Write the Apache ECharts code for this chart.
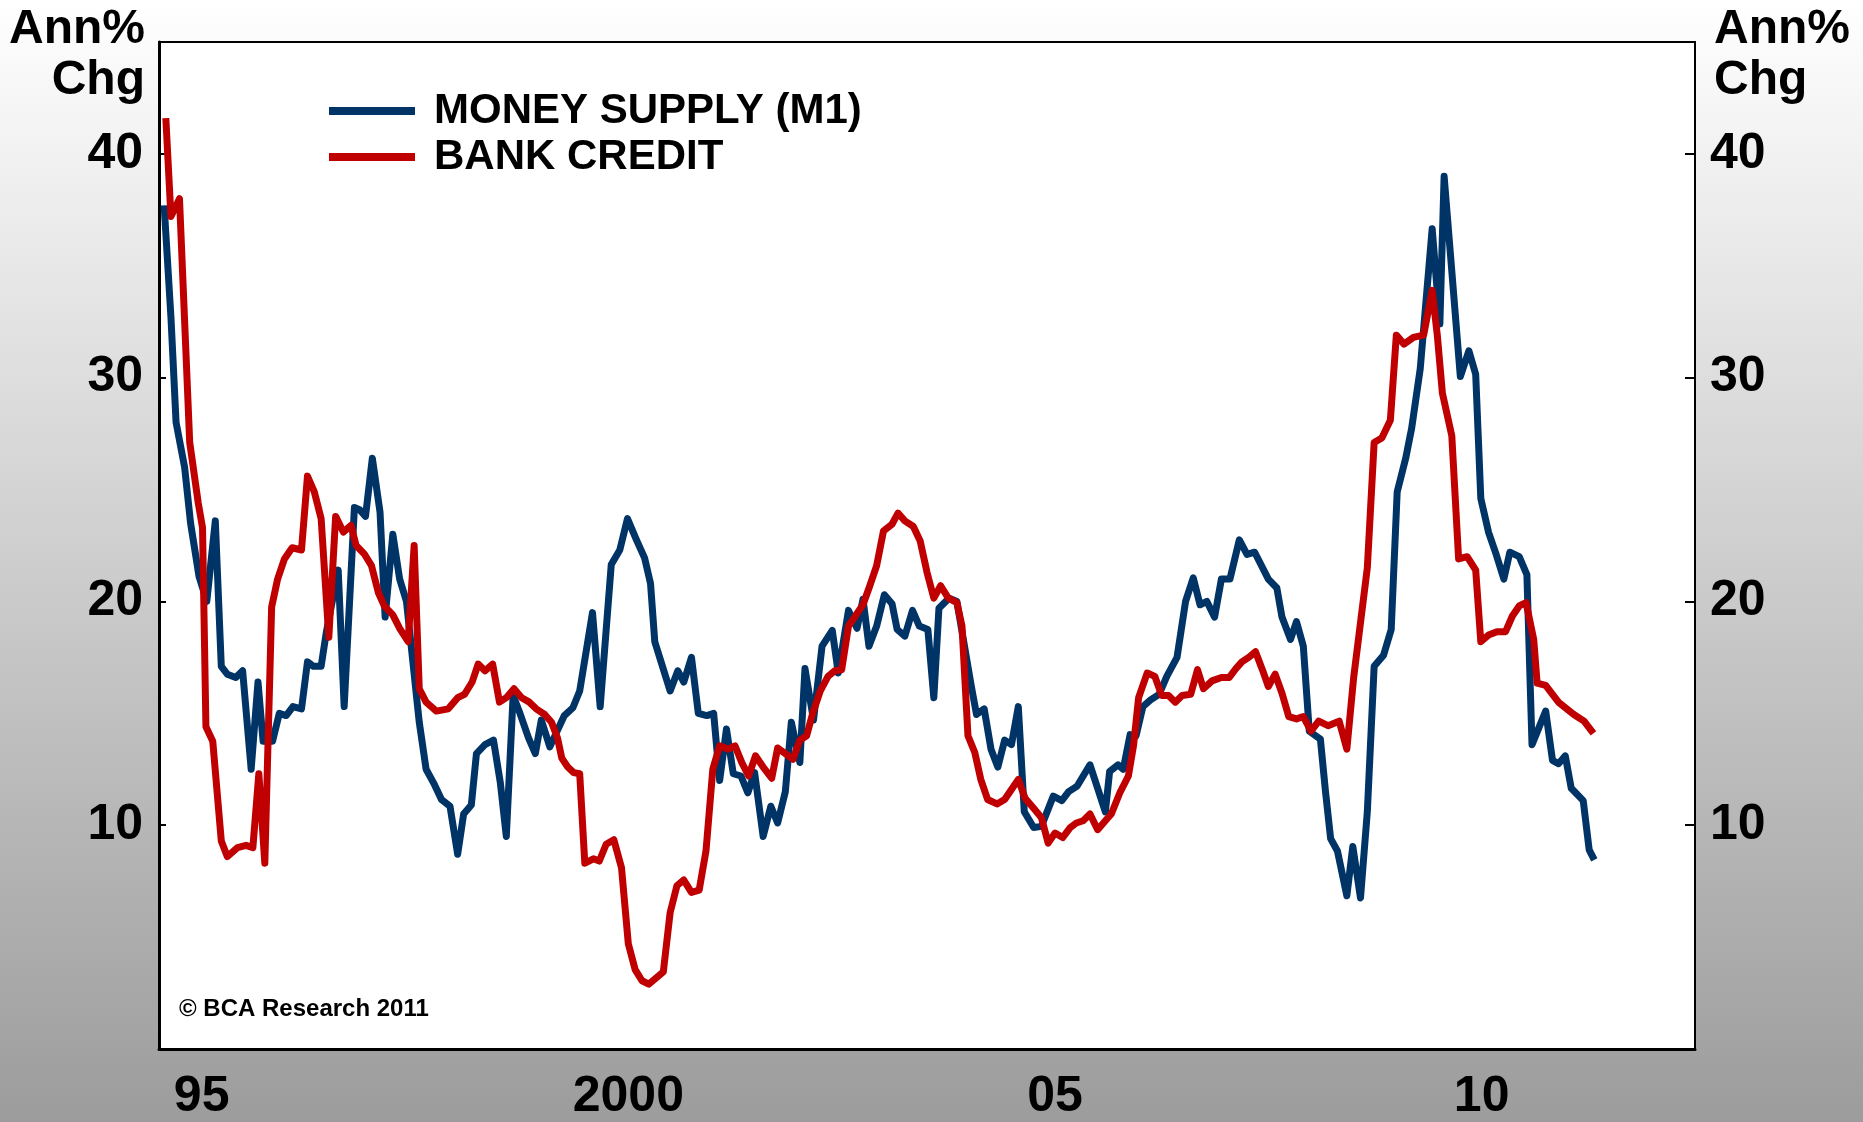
<!DOCTYPE html>
<html>
<head>
<meta charset="utf-8">
<script src="https://cdn.jsdelivr.net/npm/echarts/dist/echarts.min.js"></script>
<style>
  html, body { margin: 0; padding: 0; }
  #chart { width: 1863px; height: 1122px; }
</style>
</head>
<body>
<div id="chart"></div>
<script>
// year labels, one slot per calendar year 1995..2012
const yearLabels = ['95', '', '', '', '', '2000', '', '', '', '', '05', '', '', '', '', '10', '', '']

// [decimal year, annual % change]
const m1Points = [
  [1995.06, 37.7], [1995.14, 32.7], [1995.20, 28.0], [1995.30, 26.0], [1995.37, 23.5],
  [1995.47, 21.1], [1995.56, 20.0], [1995.66, 23.6], [1995.73, 17.1], [1995.80, 16.75],
  [1995.90, 16.6], [1995.98, 16.9], [1996.08, 12.5], [1996.16, 16.4], [1996.22, 13.75],
  [1996.33, 13.75], [1996.41, 15.0], [1996.49, 14.9], [1996.57, 15.3], [1996.67, 15.2],
  [1996.74, 17.3], [1996.81, 17.1], [1996.90, 17.1], [1996.96, 18.6], [1997.10, 21.4],
  [1997.17, 15.3], [1997.29, 24.2], [1997.35, 24.1], [1997.42, 23.8], [1997.50, 26.4],
  [1997.59, 24.0], [1997.65, 19.3], [1997.74, 23.0], [1997.82, 21.0], [1997.90, 20.0],
  [1998.05, 14.6], [1998.13, 12.5], [1998.23, 11.8], [1998.31, 11.15], [1998.41, 10.85],
  [1998.50, 8.7], [1998.57, 10.5], [1998.66, 10.9], [1998.72, 13.2], [1998.82, 13.6],
  [1998.92, 13.8], [1999.00, 11.9], [1999.07, 9.5], [1999.15, 15.8], [1999.23, 15.0],
  [1999.33, 13.9], [1999.41, 13.2], [1999.48, 14.7], [1999.58, 13.5], [1999.75, 14.9],
  [1999.85, 15.25], [1999.93, 16.0], [2000.08, 19.5], [2000.17, 15.3], [2000.30, 21.65],
  [2000.40, 22.3], [2000.49, 23.7], [2000.59, 22.8], [2000.69, 21.95], [2000.76, 20.8],
  [2000.81, 18.2], [2000.90, 17.1], [2000.99, 16.0], [2001.08, 16.9], [2001.15, 16.4],
  [2001.24, 17.5], [2001.32, 15.0], [2001.42, 14.9], [2001.50, 15.0], [2001.57, 12.0],
  [2001.65, 14.3], [2001.73, 12.3], [2001.82, 12.2], [2001.90, 11.45], [2001.98, 12.35],
  [2002.08, 9.5], [2002.17, 10.85], [2002.25, 10.1], [2002.34, 11.5], [2002.41, 14.6],
  [2002.51, 12.8], [2002.57, 17.0], [2002.67, 14.7], [2002.77, 18.0], [2002.89, 18.7],
  [2002.96, 16.8], [2003.08, 19.6], [2003.18, 18.8], [2003.25, 20.1], [2003.32, 18.0],
  [2003.41, 18.9], [2003.50, 20.3], [2003.59, 19.9], [2003.65, 18.75], [2003.74, 18.45],
  [2003.83, 19.6], [2003.91, 18.9], [2004.01, 18.75], [2004.08, 15.7], [2004.14, 19.7],
  [2004.26, 20.15], [2004.35, 20.0], [2004.52, 16.2], [2004.58, 14.95], [2004.67, 15.2],
  [2004.75, 13.4], [2004.83, 12.6], [2004.91, 13.8], [2004.99, 13.6], [2005.07, 15.3],
  [2005.14, 10.6], [2005.25, 9.9], [2005.34, 9.95], [2005.48, 11.3], [2005.58, 11.1],
  [2005.66, 11.5], [2005.76, 11.75], [2005.91, 12.7], [2006.09, 10.6], [2006.14, 12.4],
  [2006.24, 12.7], [2006.30, 12.5], [2006.38, 14.05], [2006.45, 14.0], [2006.53, 15.3],
  [2006.62, 15.6], [2006.72, 15.85], [2006.81, 16.65], [2006.93, 17.5], [2007.03, 20.0],
  [2007.12, 21.05], [2007.20, 19.85], [2007.28, 20.0], [2007.37, 19.3], [2007.45, 21.0],
  [2007.55, 21.0], [2007.66, 22.75], [2007.75, 22.1], [2007.84, 22.2], [2008.00, 21.0],
  [2008.10, 20.6], [2008.16, 19.3], [2008.26, 18.3], [2008.33, 19.1], [2008.41, 18.0],
  [2008.48, 14.2], [2008.61, 13.85], [2008.67, 11.5], [2008.73, 9.4], [2008.81, 8.85],
  [2008.92, 6.85], [2008.99, 9.05], [2009.08, 6.75], [2009.16, 10.6], [2009.24, 17.1],
  [2009.35, 17.6], [2009.44, 18.75], [2009.51, 24.9], [2009.61, 26.4], [2009.68, 27.75],
  [2009.78, 30.4], [2009.92, 36.65], [2010.01, 32.4], [2010.06, 39.0], [2010.25, 30.05],
  [2010.35, 31.2], [2010.43, 30.15], [2010.49, 24.6], [2010.58, 23.1], [2010.67, 22.1],
  [2010.76, 21.0], [2010.83, 22.2], [2010.94, 22.0], [2011.03, 21.2], [2011.09, 13.6],
  [2011.25, 15.1], [2011.33, 12.9], [2011.40, 12.75], [2011.48, 13.1], [2011.55, 11.65],
  [2011.69, 11.1], [2011.76, 8.9], [2011.82, 8.45]
]

const creditPoints = [
  [1995.08, 41.6], [1995.14, 37.2], [1995.24, 38.0], [1995.36, 27.1], [1995.46, 24.4],
  [1995.51, 23.3], [1995.55, 14.4], [1995.63, 13.75], [1995.73, 9.3], [1995.80, 8.6],
  [1995.92, 9.0], [1996.02, 9.1], [1996.10, 9.0], [1996.17, 12.3], [1996.24, 8.3],
  [1996.32, 19.75], [1996.39, 21.0], [1996.47, 21.9], [1996.56, 22.4], [1996.67, 22.3],
  [1996.74, 25.6], [1996.82, 24.9], [1996.90, 23.7], [1996.99, 18.4], [1997.07, 23.8],
  [1997.16, 23.1], [1997.25, 23.4], [1997.31, 22.5], [1997.41, 22.1], [1997.49, 21.6],
  [1997.57, 20.4], [1997.64, 19.8], [1997.74, 19.4], [1997.82, 18.8], [1997.92, 18.2],
  [1997.99, 22.5], [1998.05, 16.1], [1998.13, 15.5], [1998.25, 15.1], [1998.39, 15.2],
  [1998.50, 15.7], [1998.58, 15.85], [1998.67, 16.4], [1998.74, 17.2], [1998.82, 16.9],
  [1998.91, 17.2], [1998.99, 15.5], [1999.07, 15.7], [1999.16, 16.1], [1999.25, 15.7],
  [1999.34, 15.5], [1999.42, 15.2], [1999.52, 14.95], [1999.60, 14.6], [1999.67, 13.9],
  [1999.72, 13.0], [1999.79, 12.6], [1999.86, 12.35], [1999.93, 12.3], [1999.99, 8.3],
  [2000.09, 8.5], [2000.16, 8.4], [2000.24, 9.15], [2000.33, 9.35], [2000.42, 8.1],
  [2000.50, 4.7], [2000.58, 3.55], [2000.66, 3.05], [2000.74, 2.9], [2000.91, 3.45],
  [2000.99, 6.1], [2001.07, 7.3], [2001.15, 7.55], [2001.24, 7.0], [2001.33, 7.1],
  [2001.41, 8.85], [2001.49, 12.5], [2001.57, 13.55], [2001.67, 13.4], [2001.75, 13.55],
  [2001.83, 12.8], [2001.91, 12.2], [2001.99, 13.1], [2002.08, 12.6], [2002.18, 12.1],
  [2002.25, 13.45], [2002.34, 13.2], [2002.43, 12.95], [2002.51, 13.8], [2002.59, 14.0],
  [2002.66, 15.0], [2002.75, 16.0], [2002.84, 16.65], [2002.92, 16.9], [2003.00, 16.95],
  [2003.08, 18.9], [2003.16, 19.35], [2003.25, 19.85], [2003.33, 20.7], [2003.41, 21.6],
  [2003.49, 23.15], [2003.59, 23.45], [2003.66, 23.95], [2003.74, 23.6], [2003.84, 23.35],
  [2003.92, 22.7], [2004.00, 21.3], [2004.08, 20.15], [2004.16, 20.7], [2004.25, 20.15],
  [2004.35, 19.95], [2004.41, 18.9], [2004.48, 14.0], [2004.56, 13.25], [2004.63, 12.05],
  [2004.71, 11.15], [2004.82, 10.95], [2004.91, 11.15], [2004.99, 11.6], [2005.07, 12.05],
  [2005.15, 11.2], [2005.23, 10.85], [2005.34, 10.35], [2005.42, 9.2], [2005.50, 9.65],
  [2005.59, 9.45], [2005.68, 9.9], [2005.75, 10.1], [2005.83, 10.2], [2005.91, 10.5],
  [2006.00, 9.8], [2006.09, 10.2], [2006.16, 10.5], [2006.26, 11.45], [2006.36, 12.2],
  [2006.42, 13.55], [2006.48, 15.7], [2006.58, 16.8], [2006.67, 16.65], [2006.75, 15.8],
  [2006.83, 15.8], [2006.91, 15.5], [2006.99, 15.8], [2007.09, 15.85], [2007.17, 16.95],
  [2007.24, 16.1], [2007.34, 16.45], [2007.45, 16.6], [2007.54, 16.6], [2007.62, 17.0],
  [2007.69, 17.3], [2007.77, 17.5], [2007.85, 17.75], [2007.93, 16.95], [2008.00, 16.2],
  [2008.08, 16.75], [2008.16, 15.9], [2008.24, 14.85], [2008.33, 14.75], [2008.41, 14.85],
  [2008.50, 14.2], [2008.59, 14.65], [2008.70, 14.45], [2008.83, 14.65], [2008.92, 13.4],
  [2009.00, 16.6], [2009.16, 21.5], [2009.24, 27.1], [2009.33, 27.3], [2009.43, 28.1],
  [2009.50, 31.9], [2009.59, 31.5], [2009.70, 31.8], [2009.82, 31.9], [2009.92, 33.9],
  [2009.98, 31.9], [2010.04, 29.3], [2010.15, 27.4], [2010.23, 21.9], [2010.33, 22.0],
  [2010.43, 21.4], [2010.49, 18.2], [2010.58, 18.5], [2010.68, 18.65], [2010.78, 18.65],
  [2010.86, 19.35], [2010.94, 19.8], [2011.02, 19.95], [2011.11, 18.3], [2011.15, 16.35],
  [2011.25, 16.25], [2011.40, 15.5], [2011.58, 14.95], [2011.70, 14.65], [2011.81, 14.1]
]

const FONT = 'Liberation Sans, Arial, sans-serif'
const BLUE = '#003366'
const RED = '#c00000'

const chart = echarts.init(document.getElementById('chart'))

const yLabel = v => (v > 0 && v % 10 === 0) ? String(v) : ''

chart.setOption({
  animation: false,
  backgroundColor: {
    type: 'linear', x: 0, y: 0, x2: 0, y2: 1,
    colorStops: [{ offset: 0, color: '#ffffff' }, { offset: 1, color: '#9c9c9c' }]
  },
  grid: {
    left: 159, right: 168, top: 42, bottom: 73,
    show: true, backgroundColor: '#fff', borderColor: '#000', borderWidth: 2,
    containLabel: false, outerBoundsMode: 'none'
  },
  legend: {
    orient: 'vertical',
    left: 324, top: 85,
    icon: 'rect', itemWidth: 86, itemHeight: 8, itemGap: 4,
    textStyle: {
      fontFamily: FONT, fontWeight: 'bold', fontSize: 42, color: '#000',
      lineHeight: 42, padding: [0, 0, 0, 14]
    },
    data: ['MONEY SUPPLY (M1)', 'BANK CREDIT']
  },
  xAxis: [
    {
      type: 'category',
      data: yearLabels,
      position: 'bottom',
      boundaryGap: true,
      axisLine: { lineStyle: { color: '#000', width: 3 } },
      axisTick: { inside: true, length: 13, interval: 0, lineStyle: { color: '#000', width: 2 } },
      axisLabel: { interval: 0, fontFamily: FONT, fontWeight: 'bold', fontSize: 50, color: '#000', margin: 23 },
      splitLine: { show: false }
    },
    {
      type: 'value', min: 1995, max: 2013, show: false
    }
  ],
  yAxis: [
    {
      type: 'value', position: 'left', min: 0, max: 45, interval: 10,
      axisLine: { show: true, lineStyle: { color: '#000', width: 3 } },
      axisTick: { show: true, inside: true, length: 7, lineStyle: { color: '#000', width: 2 } },
      axisLabel: { formatter: yLabel, fontFamily: FONT, fontWeight: 'bold', fontSize: 50, color: '#000', margin: 16, padding: [6, 0, 0, 0] },
      splitLine: { show: false }
    },
    {
      type: 'value', position: 'right', min: 0, max: 45, interval: 10,
      axisLine: { show: true, lineStyle: { color: '#000', width: 2 } },
      axisTick: { show: true, inside: true, length: 10, lineStyle: { color: '#000', width: 2 } },
      axisLabel: { formatter: yLabel, fontFamily: FONT, fontWeight: 'bold', fontSize: 50, color: '#000', margin: 15, padding: [6, 0, 0, 0] },
      splitLine: { show: false }
    }
  ],
  series: [
    {
      name: 'MONEY SUPPLY (M1)', type: 'line', xAxisIndex: 1, yAxisIndex: 0,
      data: m1Points, showSymbol: false, color: BLUE,
      lineStyle: { color: BLUE, width: 7, join: 'round' }
    },
    {
      name: 'BANK CREDIT', type: 'line', xAxisIndex: 1, yAxisIndex: 0,
      data: creditPoints, showSymbol: false, color: RED,
      lineStyle: { color: RED, width: 7, join: 'round' }
    }
  ],
  graphic: [
    {
      type: 'text', x: 145, y: 4,
      style: { text: 'Ann%\nChg', textAlign: 'right', textVerticalAlign: 'top', font: 'bold 48px ' + FONT, lineHeight: 51, fill: '#000' }
    },
    {
      type: 'text', x: 1714, y: 4,
      style: { text: 'Ann%\nChg', textAlign: 'left', textVerticalAlign: 'top', font: 'bold 48px ' + FONT, lineHeight: 51, fill: '#000' }
    },
    {
      type: 'text', x: 179, y: 1009, z: 10,
      style: { text: '\u00a9 BCA Research 2011', textAlign: 'left', textVerticalAlign: 'middle', font: 'bold 24px ' + FONT, fill: '#000' }
    }
  ]
})
</script>
</body>
</html>
